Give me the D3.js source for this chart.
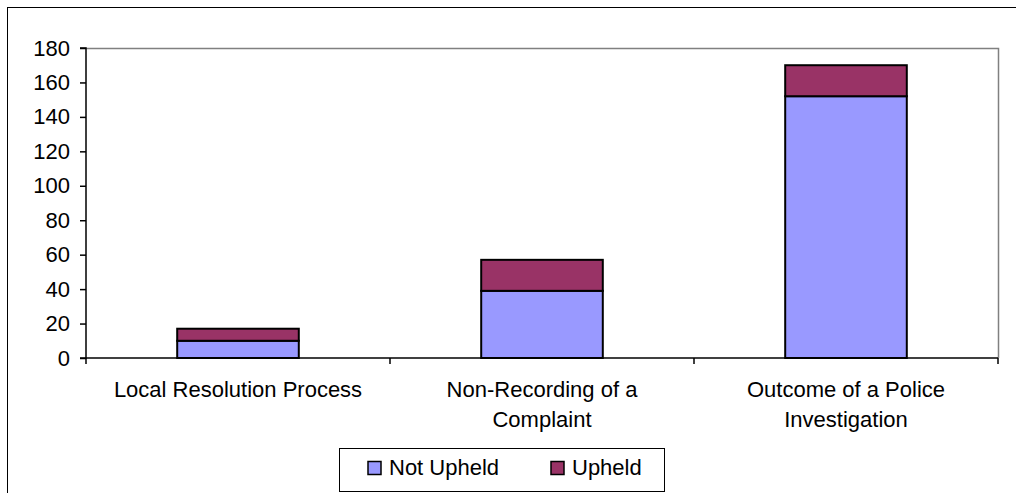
<!DOCTYPE html>
<html>
<head>
<meta charset="utf-8">
<script src="https://cdn.jsdelivr.net/npm/d3@7"></script>
<style>
  html, body { margin: 0; padding: 0; background: #fff; }
  svg { display: block; }
  text { font-family: "Liberation Sans", Arial, sans-serif; fill: #000; }
</style>
</head>
<body>
<svg id="chart" width="1016" height="493"></svg>
<script>
const categories = [
  ["Local Resolution Process"],
  ["Non-Recording of a", "Complaint"],
  ["Outcome of a Police", "Investigation"]
];
const seriesNames = ["Not Upheld", "Upheld"];
const notUpheld = [10, 39, 152];
const upheld = [7, 18, 18];
const yTicks = [0, 20, 40, 60, 80, 100, 120, 140, 160, 180];
const colors = ["#9999FF", "#993366"];

const FS = "22px";
const svg = d3.select("#chart");
const W = 1016, H = 493;
const plot = { left: 86, right: 998, top: 48, bottom: 358 };

// outer border (left and top visible)
svg.append("rect").attr("x", 7.5).attr("y", 7.5)
  .attr("width", W + 10).attr("height", H + 10)
  .attr("fill", "none").attr("stroke", "#000").attr("stroke-width", 1);

const keys = categories.map((c, i) => i);
const x = d3.scaleBand().domain(keys).range([plot.left, plot.right]).paddingInner(0).paddingOuter(0);
const y = d3.scaleLinear().domain([0, 180]).range([plot.bottom, plot.top]);

// plot area border top & right (gray)
svg.append("path")
  .attr("d", `M${plot.left},${plot.top + 0.5}H${plot.right + 0.5}V${plot.bottom}`)
  .attr("fill", "none").attr("stroke", "#808080").attr("stroke-width", 1.5);

// stacked data
const rows = keys.map(i => ({ i, "Not Upheld": notUpheld[i], "Upheld": upheld[i] }));
const stack = d3.stack().keys(seriesNames)(rows);
const barW = x.bandwidth() * 0.4;

stack.forEach((layer, li) => {
  svg.append("g").selectAll("rect").data(layer).enter().append("rect")
    .attr("x", d => x(d.data.i) + (x.bandwidth() - barW) / 2)
    .attr("y", d => y(d[1]))
    .attr("width", barW)
    .attr("height", d => y(d[0]) - y(d[1]))
    .attr("fill", colors[li])
    .attr("stroke", "#000").attr("stroke-width", 2);
});

// y axis
const yAxis = d3.axisLeft(y).tickValues(yTicks).tickSize(6).tickPadding(10).tickFormat(d3.format("d"));
const gy = svg.append("g").attr("transform", `translate(${plot.left},0)`).call(yAxis);
gy.select(".domain").attr("stroke", "#000").attr("stroke-width", 1.5).attr("d", `M-6,${plot.top}H0V${plot.bottom}H-6`);
gy.selectAll(".tick line").attr("stroke", "#000").attr("stroke-width", 1.5);
gy.selectAll(".tick text").style("font-size", FS).style("font-family", '"Liberation Sans", Arial, sans-serif').attr("fill", "#000");

// x axis line
svg.append("line").attr("x1", plot.left).attr("x2", plot.right)
  .attr("y1", plot.bottom).attr("y2", plot.bottom)
  .attr("stroke", "#000").attr("stroke-width", 1.5);
// category ticks at band boundaries
const bounds = keys.map(i => x(i)).concat([plot.right]);
svg.append("g").selectAll("line").data(bounds).enter().append("line")
  .attr("x1", d => d).attr("x2", d => d)
  .attr("y1", plot.bottom).attr("y2", plot.bottom + 6)
  .attr("stroke", "#000").attr("stroke-width", 1.5);

// category labels
const labG = svg.append("g");
categories.forEach((lines, i) => {
  const t = labG.append("text")
    .attr("x", x(i) + x.bandwidth() / 2)
    .attr("y", 397)
    .attr("text-anchor", "middle")
    .style("font-size", FS);
  lines.forEach((ln, k) => {
    t.append("tspan").attr("x", x(i) + x.bandwidth() / 2).attr("dy", k === 0 ? 0 : 30).text(ln);
  });
});

// legend
const lg = svg.append("g");
lg.append("rect").attr("x", 339.5).attr("y", 448.5).attr("width", 325).attr("height", 43)
  .attr("fill", "#fff").attr("stroke", "#000").attr("stroke-width", 1);
const legendX = [368, 551];
seriesNames.forEach((name, i) => {
  lg.append("rect").attr("x", legendX[i]).attr("y", 461.5).attr("width", 13).attr("height", 13)
    .attr("fill", colors[i]).attr("stroke", "#000").attr("stroke-width", 1.5);
  lg.append("text").attr("x", legendX[i] + 21).attr("y", 475)
    .style("font-size", FS).text(name);
});
</script>
</body>
</html>
